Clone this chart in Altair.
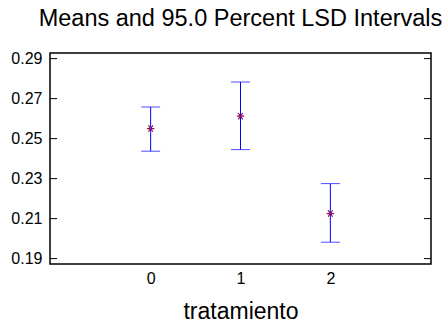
import altair as alt
import pandas as pd

groups = [0, 1, 2]
means = [0.2550, 0.2612, 0.2125]
lower = [0.2437, 0.2445, 0.1982]
upper = [0.2658, 0.2783, 0.2275]
y_ticks = [0.19, 0.21, 0.23, 0.25, 0.27, 0.29]

df = pd.DataFrame({"g": groups, "m": means, "lo": lower, "hi": upper})
ticks = pd.DataFrame({"t": y_ticks})

W, H = 381, 211
FONT = "Liberation Sans"

xs = alt.Scale(domain=[-1.12, 3.12], nice=False, zero=False)
ys = alt.Scale(domain=[0.1873, 0.2928], nice=False, zero=False)

xax = alt.Axis(values=groups, format="d", ticks=False, domain=False, grid=False,
               labelFontSize=16, labelPadding=6, labelColor="black",
               title="tratamiento", titleFontSize=23, titleFontWeight="normal",
               titleColor="black", titlePadding=14)
yax = alt.Axis(values=y_ticks, format=".2f", ticks=False, domain=False, grid=False,
               labelFontSize=16, labelPadding=8, labelColor="black", title=None)

base = alt.Chart(df)

bars = base.mark_rule(color="#0000FF", strokeWidth=1).encode(
    x=alt.X("g:Q", scale=xs, axis=xax),
    y=alt.Y("lo:Q", scale=ys, axis=yax),
    y2="hi:Q",
)
cap_lo = base.mark_tick(orient="horizontal", size=19, thickness=1, color="#0000FF").encode(
    x=alt.X("g:Q", scale=xs), y=alt.Y("lo:Q", scale=ys)
)
cap_hi = base.mark_tick(orient="horizontal", size=19, thickness=1, color="#0000FF").encode(
    x=alt.X("g:Q", scale=xs), y=alt.Y("hi:Q", scale=ys)
)
star = "M-1,0L1,0M-0.6,-0.85L0.6,0.85M-0.6,0.85L0.6,-0.85"
pts = base.mark_point(shape=star, size=55, filled=False, stroke="#8B1060", strokeWidth=1.2,
                      opacity=1).encode(
    x=alt.X("g:Q", scale=xs), y=alt.Y("m:Q", scale=ys)
)

tc = alt.Chart(ticks)
lt = tc.mark_rule(color="black", strokeWidth=1).encode(
    x=alt.value(0), x2=alt.value(7), y=alt.Y("t:Q", scale=ys)
)
rt = tc.mark_rule(color="black", strokeWidth=1).encode(
    x=alt.value(W - 7), x2=alt.value(W), y=alt.Y("t:Q", scale=ys)
)

chart = alt.layer(bars, cap_lo, cap_hi, pts, lt, rt).properties(
    width=W, height=H,
    title=alt.TitleParams("Means and 95.0 Percent LSD Intervals", fontSize=23.5,
                          fontWeight="normal", color="black", font=FONT, offset=20),
    autosize=alt.AutoSizeParams(type="none"),
    padding={"left": 50, "top": 53, "right": 16, "bottom": 58},
).configure(font=FONT).configure_view(stroke="black", strokeWidth=1.5)

chart.save("out.html", embed_options={"renderer": "svg", "actions": False})
